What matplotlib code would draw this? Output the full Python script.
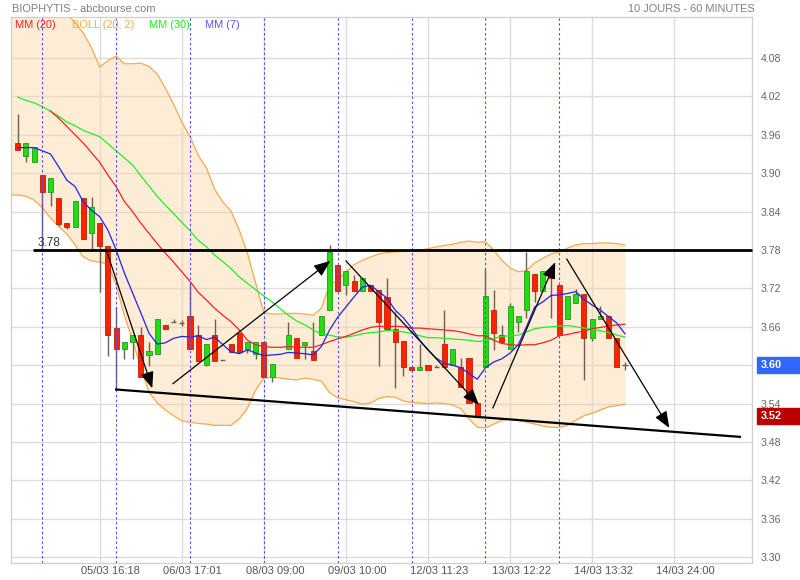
import numpy as np
import matplotlib
matplotlib.use('Agg')
import matplotlib.pyplot as plt
from matplotlib.transforms import ScaledTranslation, blended_transform_factory
from matplotlib.patches import Rectangle

plt.rcParams['font.family'] = ['Liberation Sans', 'DejaVu Sans']

# ---------------- data (hourly candles, index 0..74) ----------------
nan = np.nan
opens = [3.947, 3.927, 3.917, 3.897, 3.871, 3.862, 3.822, 3.816, 3.862, 3.806,
         3.822, 3.787, 3.658, 3.626, 3.637, 3.647, 3.616, 3.617, 3.663, 3.668,
         3.666, 3.677, 3.647, 3.600, 3.647, 3.608, 3.633, 3.651, 3.626, 3.618,
         3.637, 3.582, nan,   3.626, 3.642, 3.632, 3.622, 3.647, 3.687, 3.757,
         3.726, 3.732, 3.716, 3.726, 3.717, 3.707, 3.657, 3.638, 3.597, 3.592,
         3.601, 3.597, 3.633, 3.601, 3.597, 3.612, 3.541, 3.597, 3.687, 3.647,
         3.626, 3.667, 3.687, 3.742, 3.716, 3.747, 3.726, 3.672, 3.697, 3.712,
         3.642, 3.672, 3.677, 3.642, 3.600]
highs = [3.993, 3.947, 3.941, 3.897, 3.892, 3.862, 3.822, 3.856, 3.862, 3.863,
         3.822, 3.787, 3.691, 3.637, 3.647, 3.659, 3.637, 3.672, 3.663, 3.672,
         3.671, 3.728, 3.663, 3.633, 3.672, 3.608, 3.633, 3.651, 3.637, 3.637,
         3.637, 3.602, nan,   3.668, 3.642, 3.637, 3.668, 3.677, 3.788, 3.757,
         3.747, 3.741, 3.737, 3.726, 3.717, 3.737, 3.683, 3.638, 3.597, 3.633,
         3.601, 3.601, 3.687, 3.626, 3.612, 3.612, 3.541, 3.750, 3.717, 3.663,
         3.697, 3.677, 3.777, 3.742, 3.747, 3.747, 3.726, 3.708, 3.719, 3.712,
         3.672, 3.692, 3.677, 3.642, 3.605]
lows = [3.937, 3.918, 3.917, 3.780, 3.848, 3.818, 3.813, 3.816, 3.797, 3.780,
        3.714, 3.614, 3.561, 3.609, 3.609, 3.582, 3.598, 3.617, 3.657, 3.668,
        3.662, 3.626, 3.607, 3.598, 3.607, 3.608, 3.621, 3.621, 3.619, 3.609,
        3.582, 3.573, nan,   3.626, 3.612, 3.609, 3.608, 3.647, 3.687, 3.716,
        3.709, 3.716, 3.716, 3.716, 3.598, 3.657, 3.564, 3.583, 3.592, 3.592,
        3.592, 3.597, 3.597, 3.601, 3.566, 3.541, 3.521, 3.597, 3.624, 3.637,
        3.626, 3.652, 3.673, 3.699, 3.716, 3.673, 3.647, 3.672, 3.697, 3.577,
        3.638, 3.672, 3.642, 3.597, 3.592]
closes = [3.937, 3.947, 3.941, 3.871, 3.892, 3.821, 3.816, 3.856, 3.797, 3.847,
          3.787, 3.647, 3.626, 3.637, 3.647, 3.582, 3.622, 3.672, 3.657, 3.668,
          3.666, 3.626, 3.607, 3.633, 3.607, 3.608, 3.621, 3.621, 3.637, 3.637,
          3.582, 3.602, nan,   3.647, 3.612, 3.637, 3.608, 3.677, 3.777, 3.716,
          3.747, 3.716, 3.737, 3.716, 3.667, 3.657, 3.637, 3.597, 3.592, 3.597,
          3.592, 3.597, 3.597, 3.626, 3.566, 3.541, 3.521, 3.708, 3.651, 3.637,
          3.692, 3.677, 3.747, 3.716, 3.747, 3.737, 3.647, 3.708, 3.712, 3.642,
          3.672, 3.677, 3.642, 3.597, 3.600]

mm7 = [3.940, 3.940, 3.940, 3.935, 3.930, 3.910, 3.889, 3.879, 3.855, 3.842,
       3.832, 3.811, 3.780, 3.744, 3.713, 3.682, 3.650, 3.633, 3.635, 3.642,
       3.645, 3.644, 3.646, 3.640, 3.644, 3.632, 3.621, 3.618, 3.624, 3.619,
       3.615, 3.616, 3.617, 3.620, 3.619, 3.618, 3.616, 3.629, 3.655, 3.675,
       3.691, 3.707, 3.722, 3.725, 3.715, 3.705, 3.686, 3.674, 3.658, 3.639,
       3.624, 3.611, 3.603, 3.600, 3.596, 3.587, 3.578, 3.596, 3.605, 3.610,
       3.619, 3.632, 3.660, 3.691, 3.699, 3.709, 3.710, 3.712, 3.715, 3.703,
       3.694, 3.686, 3.676, 3.666, 3.649]
mm20 = [nan,   nan,   nan,   nan,   3.997, 3.986, 3.973, 3.960, 3.947, 3.932,
        3.917, 3.897, 3.879, 3.856, 3.840, 3.822, 3.806, 3.790, 3.775, 3.761,
        3.746, 3.731, 3.714, 3.702, 3.689, 3.678, 3.668, 3.655, 3.639, 3.632,
        3.629, 3.628, 3.628, 3.629, 3.628, 3.628, 3.628, 3.632, 3.637, 3.641,
        3.645, 3.650, 3.655, 3.659, 3.661, 3.660, 3.661, 3.660, 3.658, 3.658,
        3.657, 3.656, 3.655, 3.654, 3.652, 3.649, 3.646, 3.646, 3.639, 3.634,
        3.632, 3.631, 3.632, 3.632, 3.635, 3.639, 3.646, 3.648, 3.651, 3.653,
        3.657, 3.659, 3.661, 3.663, 3.664]
mm30 = [4.019, 4.014, 4.010, 4.004, 3.997, 3.989, 3.980, 3.974, 3.967, 3.962,
        3.957, 3.946, 3.935, 3.924, 3.913, 3.896, 3.880, 3.864, 3.850, 3.837,
        3.823, 3.810, 3.795, 3.785, 3.772, 3.762, 3.751, 3.738, 3.728, 3.718,
        3.708, 3.699, 3.688, 3.678, 3.669, 3.663, 3.655, 3.649, 3.647, 3.644,
        3.644, 3.646, 3.649, 3.651, 3.652, 3.654, 3.654, 3.652, 3.650, 3.646,
        3.643, 3.643, 3.642, 3.641, 3.640, 3.639, 3.637, 3.638, 3.642, 3.645,
        3.646, 3.647, 3.652, 3.657, 3.659, 3.660, 3.661, 3.662, 3.660, 3.658,
        3.656, 3.654, 3.651, 3.647, 3.644]
boll_up = [4.264, 4.241, 4.217, 4.199, 4.178, 4.163, 4.150, 4.135, 4.119, 4.096,
           4.066, 4.076, 4.083, 4.071, 4.071, 4.072, 4.067, 4.055, 4.033, 4.008,
           3.980, 3.957, 3.928, 3.908, 3.875, 3.855, 3.841, 3.811, 3.775, 3.728,
           3.682, 3.680, 3.680, 3.681, 3.681, 3.680, 3.678, 3.689, 3.725, 3.733,
           3.746, 3.757, 3.764, 3.769, 3.774, 3.776, 3.777, 3.778, 3.779, 3.780,
           3.782, 3.785, 3.787, 3.789, 3.792, 3.794, 3.792, 3.793, 3.780, 3.764,
           3.752, 3.746, 3.748, 3.760, 3.767, 3.774, 3.777, 3.783, 3.788, 3.790,
           3.790, 3.791, 3.791, 3.790, 3.788]
boll_low = [3.866, 3.864, 3.858, 3.846, 3.830, 3.817, 3.805, 3.788, 3.769, 3.763,
            3.761, 3.758, 3.725, 3.678, 3.639, 3.596, 3.558, 3.541, 3.530, 3.521,
            3.513, 3.511, 3.509, 3.508, 3.506, 3.506, 3.506, 3.516, 3.533, 3.561,
            3.580, 3.581, 3.580, 3.578, 3.577, 3.580, 3.578, 3.575, 3.557, 3.549,
            3.546, 3.543, 3.539, 3.541, 3.548, 3.551, 3.550, 3.544, 3.542, 3.541,
            3.540, 3.541, 3.540, 3.538, 3.532, 3.516, 3.503, 3.502, 3.508, 3.514,
            3.516, 3.514, 3.511, 3.508, 3.505, 3.503, 3.503, 3.506, 3.514, 3.521,
            3.525, 3.530, 3.535, 3.537, 3.539]

day_start_idx = [3, 12, 21, 30, 39, 48, 57, 66]
x_tick_idx = [10, 20, 30, 40, 50, 60, 70, 80]
x_tick_labels = ["05/03 16:18", "06/03 17:01", "08/03 09:00", "09/03 10:00",
                 "12/03 11:23", "13/03 12:22", "14/03 13:32", "14/03 24:00"]
y_ticks = [3.30, 3.36, 3.42, 3.48, 3.54, 3.60, 3.66, 3.72, 3.78, 3.84, 3.90,
           3.96, 4.02, 4.08]

resistance_level = 3.78
resistance_start = 1.86
support_line = [(12.0, 3.562), (88.0, 3.488)]
arrows = [((10.8, 3.780), (16.4, 3.564)),
          ((18.9, 3.571), (38.1, 3.763)),
          ((40.0, 3.763), (56.2, 3.538)),
          ((57.9, 3.533), (65.5, 3.761)),
          ((66.9, 3.766), (79.4, 3.502))]
last_price = 3.60
marker_price = 3.52

# ---------------- figure ----------------
W, H = 800, 580
fig = plt.figure(figsize=(W / 100, H / 100), dpi=100)
ax_l, ax_r, ax_t, ax_b = 10.7, 752, 17, 563
ax = fig.add_axes([ax_l / W, 1 - ax_b / H, (ax_r - ax_l) / W, (ax_b - ax_t) / H])
x_min, x_max = -0.85, 89.48
ax.set_xlim(x_min, x_max)
ax.set_ylim(3.2909, 4.1441)

idx = np.arange(len(closes))
o = np.array(opens); h = np.array(highs); l = np.array(lows); c = np.array(closes)

# grid
ax.set_yticks(y_ticks)
ax.set_yticklabels([f"{v:.2f}" for v in y_ticks])
ax.set_xticks(x_tick_idx)
ax.set_xticklabels(x_tick_labels)
ax.grid(True, color='#dcdcdc', lw=1.0, zorder=0)
ax.set_axisbelow(True)

# Bollinger band (extended to left edge with first value)
bx = np.concatenate([[x_min], idx])
bu = np.concatenate([[boll_up[0]], boll_up])
bl = np.concatenate([[boll_low[0]], boll_low])
ax.fill_between(bx, bl, bu, color='#fbd5a6', alpha=0.45, lw=0, zorder=1)
ax.plot(bx, bu, color='#f7a94e', lw=0.9, zorder=2)
ax.plot(bx, bl, color='#f7a94e', lw=0.9, zorder=2)

# candles
valid = ~np.isnan(c)
up = valid & (c > o)
dn = valid & (c < o)
dj = valid & (c == o)
wick_col = '#6e5f50'
ax.vlines(idx[valid], l[valid], h[valid], color=wick_col, lw=1.0, zorder=3)
ax.bar(idx[up], (c - o)[up], bottom=o[up], width=0.62, color='#22dd11',
       edgecolor='#229922', lw=0.6, zorder=4)
ax.bar(idx[dn], (o - c)[dn], bottom=c[dn], width=0.62, color='#ff2200',
       edgecolor='#bb2200', lw=0.6, zorder=4)
ax.hlines(c[dj], idx[dj] - 0.32, idx[dj] + 0.32, color=wick_col, lw=1.0, zorder=4)

# moving averages
ax.plot(idx, mm30, color='#22ee22', lw=0.9, zorder=5)
ax.plot(idx, mm20, color='#ff2020', lw=0.9, zorder=5)
ax.plot(idx, mm7, color='#2222ee', lw=0.9, zorder=5)

# day separators
for d in day_start_idx:
    ax.axvline(d, color='#5050ff', lw=0.8, ls=(0, (2.2, 2.2)), zorder=5.5)

# drawings
ax.plot([resistance_start, x_max], [resistance_level, resistance_level],
        color='black', lw=2.0, zorder=6, solid_capstyle='butt', clip_on=False)
ax.text(resistance_start + 0.6, resistance_level + 0.002, f"{resistance_level:.2f}",
        fontsize=8.5, color='#333333', ha='left', va='bottom', zorder=6)
ax.plot([p[0] for p in support_line], [p[1] for p in support_line],
        color='black', lw=1.6, zorder=6)
for (s, e) in arrows:
    ax.annotate('', xy=e, xytext=s,
                arrowprops=dict(arrowstyle='-|>,head_length=1.0,head_width=0.4',
                                color='black', lw=0.9, shrinkA=0, shrinkB=0,
                                mutation_scale=10), zorder=7)

# axes styling
for sp in ax.spines.values():
    sp.set_color('#cfcfcf')
    sp.set_linewidth(0.9)
ax.yaxis.tick_right()
ax.tick_params(axis='y', length=0, pad=6.5, labelsize=7.6, labelcolor='#666666')
ax.tick_params(axis='x', length=0, pad=2.5, labelsize=8, labelcolor='#555555')
for lab in ax.get_yticklabels():
    lab.set_horizontalalignment('left')
off = ScaledTranslation(11 / 100, 0, fig.dpi_scale_trans)
for lab in ax.get_xticklabels():
    lab.set_transform(lab.get_transform() + off)

# price boxes on right axis
tr = blended_transform_factory(ax.transAxes, ax.transData)
box_x0 = (757 - ax_l) / (ax_r - ax_l)
box_w = (800 - 757) / (ax_r - ax_l)
box_h = 16 / 640
for val, col in [(last_price, '#3366ff'), (marker_price, '#bb0000')]:
    ax.add_patch(Rectangle((box_x0, val - box_h / 2), box_w, box_h, transform=tr,
                           color=col, clip_on=False, zorder=8))
    ax.text((761 - ax_l) / (ax_r - ax_l), val, f"{val:.2f}", transform=tr,
            color='white', fontsize=7.8, fontweight='bold', ha='left',
            va='center', clip_on=False, zorder=9)

# titles & legend
fig.text(12 / W, 1 - 9 / H, "BIOPHYTIS - abcbourse.com", fontsize=7.9,
         color='#808080', ha='left', va='center')
fig.text(755 / W, 1 - 9 / H, "10 JOURS - 60 MINUTES", fontsize=7.9,
         color='#808080', ha='right', va='center')
legend_items = [("MM (20)", '#ff2020', 15), ("BOLL (20, 2)", '#ffaa44', 72),
                ("MM (30)", '#22ee22', 149), ("MM (7)", '#5555ff', 205)]
for txt, col, px in legend_items:
    fig.text(px / W, 1 - 25 / H, txt, fontsize=7.9, color=col, ha='left',
             va='center')

fig.savefig('out.png', dpi=100)
